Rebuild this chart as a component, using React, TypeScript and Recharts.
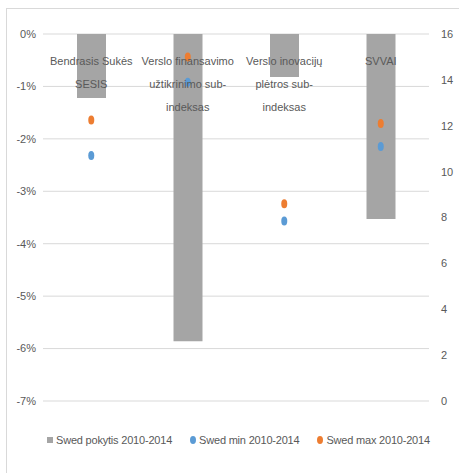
import React from "react"
import { Bar, CartesianGrid, ComposedChart, Scatter, XAxis, YAxis } from "recharts"

// categories (Lithuanian sub-index names), split into display lines
const categories = [
  "Bendrasis Sukės|SESIS",
  "Verslo finansavimo|užtikrinimo sub-|indeksas",
  "Verslo inovacijų|plėtros sub-|indeksas",
  "SVVAI",
]
// change 2010-2014 (share, left axis)
const changeValues = [-0.0122, -0.0586, -0.0082, -0.0353]
// min and max 2010-2014 (right axis)
const minValues = [10.7, 13.9, 7.85, 11.1]
const maxValues = [12.25, 15.0, 8.6, 12.1]

const leftTicks = [0, -0.01, -0.02, -0.03, -0.04, -0.05, -0.06, -0.07]
const rightTicks = [0, 2, 4, 6, 8, 10, 12, 14, 16]

const seriesNames = ["Swed pokytis 2010-2014", "Swed min  2010-2014", "Swed max 2010-2014"]

const GRAY = "#A5A5A5"
const BLUE = "#5B9BD5"
const ORANGE = "#ED7D31"
const TEXT = "#595959"
const FONT = "'Liberation Sans', Arial, sans-serif"

const data = categories.map((name, i) => ({
  name,
  change: changeValues[i],
  min: minValues[i],
  max: maxValues[i],
}))

function CategoryTick(props: any) {
  const { x, y, payload } = props
  const lines = String(payload.value).split("|")
  return (
    <text x={x} y={y + 33} textAnchor="middle" fill={TEXT} fontSize={11} fontFamily={FONT}>
      {lines.map((line, i) => (
        <tspan key={i} x={x} dy={i === 0 ? 0 : 23}>
          {line}
        </tspan>
      ))}
    </text>
  )
}

function Dot(props: any) {
  const { cx, cy, fill } = props
  return <ellipse cx={cx} cy={cy} rx={3} ry={4.5} fill={fill} />
}

export default function App() {
  return (
    <div style={{ position: "fixed", left: 0, top: 0, width: 459, height: 473, background: "#fff" }}>
      <div
        style={{
          position: "absolute",
          left: 6,
          top: 8,
          width: 460,
          height: 470,
          border: "1px solid #D9D9D9",
          boxSizing: "border-box",
        }}
      >
        <ComposedChart
          width={453}
          height={465}
          data={data}
          margin={{ top: 24, right: 0, bottom: 73, left: 0 }}
          barCategoryGap="35%"
        >
          <CartesianGrid vertical={false} stroke="#D9D9D9" yAxisId="left" />
          <XAxis
            dataKey="name"
            orientation="top"
            height={1}
            axisLine={false}
            tickLine={false}
            tickSize={0}
            tick={<CategoryTick />}
            interval={0}
          />
          <YAxis
            yAxisId="left"
            domain={[-0.07, 0]}
            ticks={leftTicks}
            width={36}
            axisLine={false}
            tickLine={false}
            tickSize={0}
            tickMargin={7}
            tickFormatter={(v: number) => `${Math.round(v * 100)}%`}
            tick={{ fill: TEXT, fontSize: 11, fontFamily: FONT }}
          />
          <YAxis
            yAxisId="right"
            orientation="right"
            domain={[0, 16]}
            ticks={rightTicks}
            width={31}
            axisLine={false}
            tickLine={false}
            tickSize={0}
            tickMargin={12}
            tick={{ fill: TEXT, fontSize: 11, fontFamily: FONT }}
          />
          <Bar yAxisId="left" dataKey="change" fill={GRAY} barSize={29} isAnimationActive={false} />
          <Scatter yAxisId="right" dataKey="min" fill={BLUE} shape={<Dot />} isAnimationActive={false} />
          <Scatter yAxisId="right" dataKey="max" fill={ORANGE} shape={<Dot />} isAnimationActive={false} />
        </ComposedChart>
        <div
          style={{
            position: "absolute",
            left: 40,
            top: 425,
            display: "flex",
            gap: 18,
            fontFamily: FONT,
            fontSize: 11,
            letterSpacing: -0.2,
            color: TEXT,
            whiteSpace: "nowrap",
          }}
        >
          {seriesNames.map((name, i) => (
            <span key={name} style={{ display: "flex", alignItems: "center", gap: 3 }}>
              <span
                style={{
                  display: "inline-block",
                  width: 6,
                  height: i === 0 ? 6 : 8,
                  borderRadius: i === 0 ? 0 : "50%",
                  background: [GRAY, BLUE, ORANGE][i],
                }}
              />
              {name}
            </span>
          ))}
        </div>
      </div>
    </div>
  )
}
